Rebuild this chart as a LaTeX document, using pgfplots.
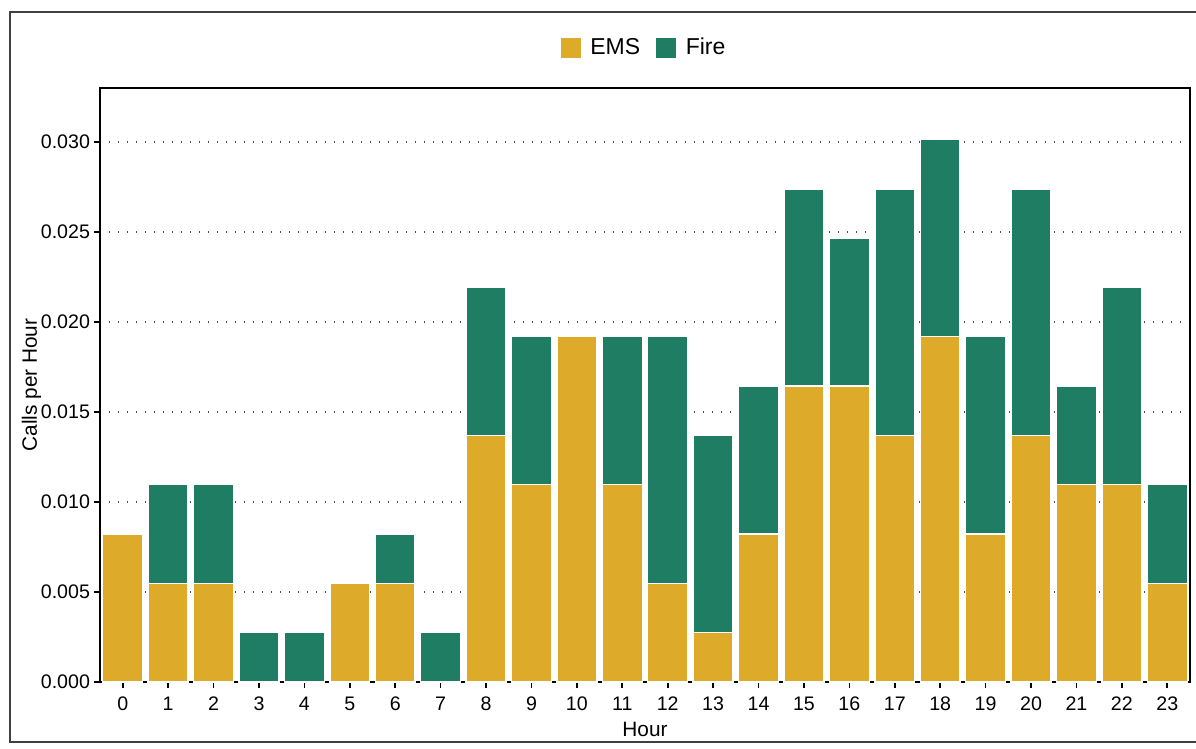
\documentclass[border=0pt]{standalone}
\usepackage{pgfplots}
\pgfplotsset{compat=1.18}
\usepackage{fontspec}
\setmainfont{Liberation Sans}

\definecolor{emsgold}{RGB}{222,170,42}
\definecolor{firegreen}{RGB}{30,125,98}

\begin{document}
\begin{tikzpicture}
  \useasboundingbox (0pt,0pt) rectangle (598pt,-374.5pt);
  % outer frame of the figure
  \draw[black!75, line width=0.7pt] (5pt,-6pt) rectangle (640pt,-371pt);
  \begin{axis}[
    at={(50pt,-341pt)}, anchor=south west,
    scale only axis,
    width=545pt, height=297pt,
    ybar stacked,
    bar width=0.88,
    xmin=-0.5, xmax=23.5,
    ymin=0, ymax=0.033,
    xtick={0,1,...,23},
    ytick={0,0.005,0.010,0.015,0.020,0.025,0.030},
    tick pos=left,
    tick align=outside,
    major tick length=3pt,
    tick style={black, line width=0.8pt},
    axis line style={black, line width=0.9pt},
    ymajorgrids,
    major grid style={black!70, line width=0.8pt, dash pattern=on 0.7pt off 3.8pt},
    scaled y ticks=false,
    y tick label style={/tikz/xshift=1.5pt,
      /pgf/number format/fixed, /pgf/number format/fixed zerofill,
      /pgf/number format/precision=3},
    /pgf/number format/assume math mode=true,
    ticklabel style={font=\fontsize{9.8}{11}\selectfont, black},
    x tick label style={/tikz/yshift=-1pt},
    xlabel={Hour},
    ylabel={Calls per Hour},
    label style={font=\fontsize{10.4}{12}\selectfont},
    xlabel style={yshift=1pt},
    ylabel style={yshift=-7pt},
    legend columns=2,
    legend style={at={(0.5,1.0)}, anchor=south, yshift=11pt, draw=none, fill=none,
      font=\fontsize{11.5}{13}\selectfont,
      /tikz/every even column/.append style={column sep=6pt}},
    legend image code/.code={\fill[#1,draw=none] (0pt,-5pt) rectangle (10pt,5pt);
      \path (12.5pt,0pt);},
  ]
    % EMS calls (daily-averaged counts per hour of day)
    \addplot[fill=emsgold, draw=white, line width=0.7pt] coordinates {
      (0,0.00822) (1,0.00548) (2,0.00548) (3,0) (4,0) (5,0.00548)
      (6,0.00548) (7,0) (8,0.01370) (9,0.01096) (10,0.01918) (11,0.01096)
      (12,0.00548) (13,0.00274) (14,0.00822) (15,0.01644) (16,0.01644) (17,0.01370)
      (18,0.01918) (19,0.00822) (20,0.01370) (21,0.01096) (22,0.01096) (23,0.00548)
    };
    % Fire calls, stacked on EMS
    \addplot[fill=firegreen, draw=white, line width=0.7pt] coordinates {
      (0,0) (1,0.00548) (2,0.00548) (3,0.00274) (4,0.00274) (5,0)
      (6,0.00274) (7,0.00274) (8,0.00822) (9,0.00822) (10,0) (11,0.00822)
      (12,0.01370) (13,0.01096) (14,0.00822) (15,0.01096) (16,0.00822) (17,0.01370)
      (18,0.01096) (19,0.01096) (20,0.01370) (21,0.00548) (22,0.01096) (23,0.00548)
    };
    \legend{EMS, Fire}
  \end{axis}
\end{tikzpicture}
\end{document}
